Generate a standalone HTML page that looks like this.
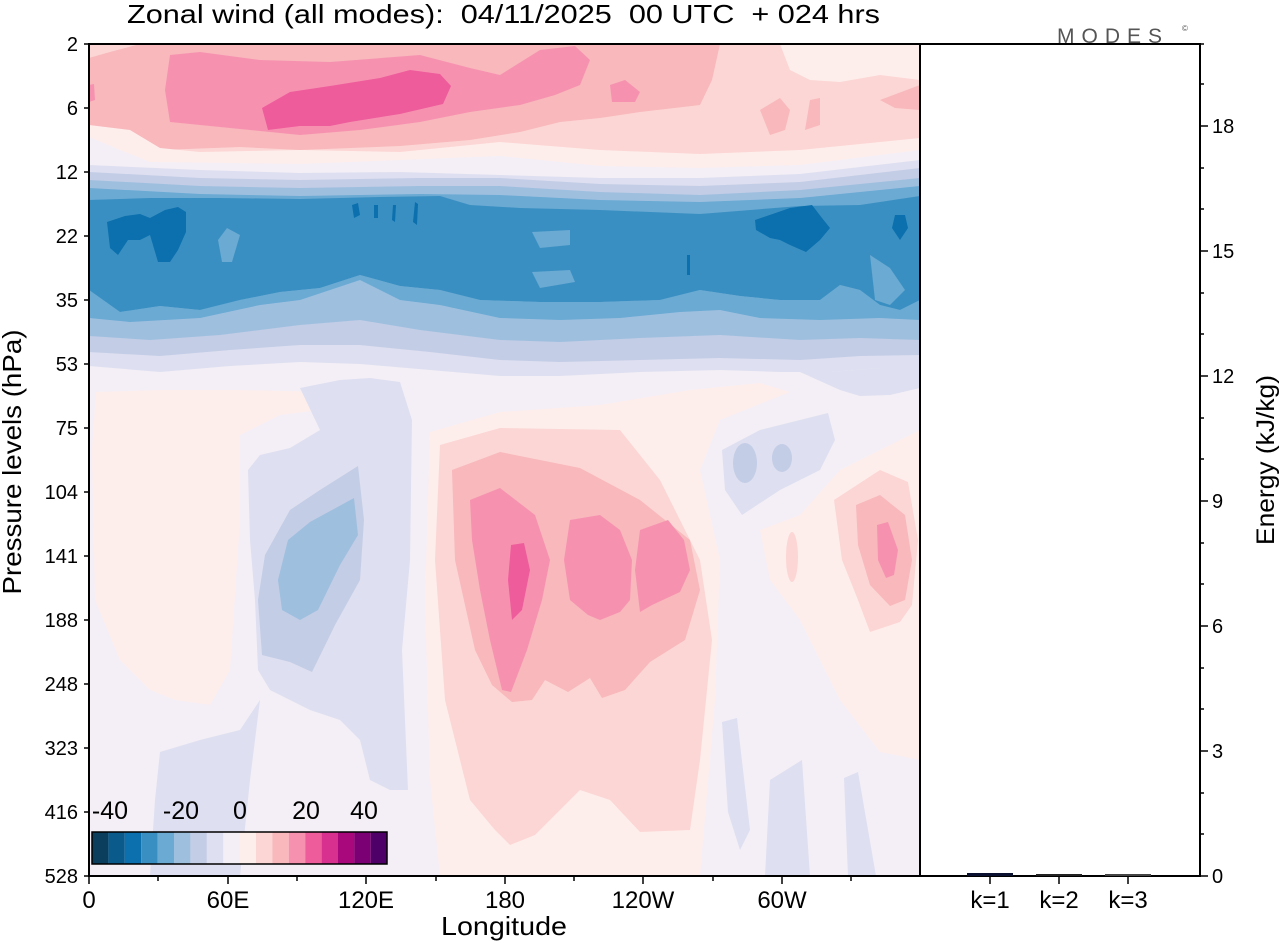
<!DOCTYPE html>
<html><head><meta charset="utf-8"><style>
body{margin:0;background:#fff;}
svg{display:block;font-family:"Liberation Sans",sans-serif;}
</style></head><body>
<svg width="1280" height="942" viewBox="0 0 1280 942" xmlns="http://www.w3.org/2000/svg">
<rect width="1280" height="942" fill="#fff"/>
<defs><clipPath id="c"><rect x="89" y="44" width="831" height="832"/></clipPath></defs>
<g clip-path="url(#c)" stroke-linejoin="round">
<rect x="89" y="44" width="831" height="832" fill="#f4eff6"/>
<rect x="89" y="44" width="831" height="160" fill="#fcd6d4"/>
<polygon fill="#fdeeec" points="780,44 920,44 920,80 880,75 840,82 810,80 790,70"/>
<polygon fill="#f8b8bc" points="89,58 110,52 140,44 720,44 712,80 700,105 640,112 600,118 560,122 520,132 470,140 400,146 300,150 240,147 160,150 130,140 89,130"/>
<polygon fill="#f8b8bc" points="760,110 780,98 790,110 785,130 770,135"/>
<polygon fill="#f8b8bc" points="810,100 820,98 820,125 805,130"/>
<polygon fill="#f8b8bc" points="880,100 920,85 920,110 895,108"/>
<polygon fill="#f692b0" points="170,55 200,52 260,60 330,62 420,55 470,68 500,75 540,50 575,46 590,60 580,85 555,95 520,105 470,112 420,122 360,130 300,135 250,130 170,122 165,90"/>
<polygon fill="#f692b0" points="610,85 625,80 640,92 635,102 612,102"/>
<polygon fill="#f692b0" points="89,85 94,84 95,100 89,102"/>
<polygon fill="#ee5c9c" points="262,108 290,92 330,86 380,78 410,70 440,74 451,86 443,104 400,114 350,122 330,126 300,126 268,130"/>
<polygon fill="#fdeeec" points="89,125 130,130 160,148 200,152 300,150 400,152 500,142 600,150 700,154 800,150 920,138 920,876 89,876"/>
<polygon fill="#f4eff6" points="89,137 120,150 150,162 300,164 400,160 500,156 600,166 700,168 800,165 920,150 920,876 89,876"/>
<polygon fill="#dedff0" points="89,165 200,170 300,173 400,172 500,175 600,178 700,178 800,174 920,160 920,876 89,876"/>
<polygon fill="#c3cde6" points="89,172 200,178 300,180 420,178 500,178 600,184 700,186 800,182 920,168 920,876 89,876"/>
<polygon fill="#9fbfdf" points="89,180 200,186 300,188 420,186 500,186 600,192 700,195 800,190 920,178 920,876 89,876"/>
<polygon fill="#6aaad3" points="89,188 200,194 300,196 420,194 500,195 600,200 700,202 800,198 920,186 920,876 89,876"/>
<polygon fill="#3a8fc2" points="89,200 150,198 220,198 300,199 380,197 440,196 470,205 520,208 600,210 700,214 800,206 860,205 920,196 920,300 900,310 880,305 860,290 840,285 820,300 780,300 740,296 700,290 660,300 600,302 540,302 480,300 440,290 400,286 360,275 320,288 280,292 240,300 200,310 160,306 120,312 89,290"/>
<polygon fill="#6aaad3" points="227,228 240,235 232,262 222,262 218,240"/>
<polygon fill="#6aaad3" points="532,232 570,230 570,245 540,248"/>
<polygon fill="#6aaad3" points="532,272 570,270 575,282 540,288"/>
<polygon fill="#6aaad3" points="870,255 890,268 905,290 890,305 875,300"/>
<polygon fill="#6aaad3" points="89,290 120,312 160,306 200,310 240,300 280,292 320,288 360,275 400,286 440,290 480,300 540,302 600,302 660,300 700,290 740,296 780,300 820,300 840,285 860,290 880,305 900,310 920,300 920,876 89,876"/>
<polygon fill="#0b70ad" points="107,222 125,216 140,214 150,218 165,210 178,207 186,212 186,232 178,250 170,262 158,262 150,235 140,240 128,240 118,255 110,248"/>
<polygon fill="#0b70ad" points="352,205 358,203 360,215 354,218"/>
<polygon fill="#0b70ad" points="374,205 378,205 378,218 374,218"/>
<polygon fill="#0b70ad" points="393,205 396,205 395,222 392,220"/>
<polygon fill="#0b70ad" points="415,202 418,204 417,225 413,222"/>
<polygon fill="#0b70ad" points="755,220 790,208 812,205 822,218 830,228 820,240 806,252 790,245 780,240 770,238 756,230"/>
<polygon fill="#0b70ad" points="895,215 905,215 908,228 900,240 892,228"/>
<polygon fill="#0b70ad" points="687,255 690,255 690,275 687,275"/>
<polygon fill="#9fbfdf" points="89,318 130,322 200,318 260,305 300,300 360,280 400,300 440,305 500,318 560,320 620,318 680,312 720,310 760,318 820,320 880,318 920,320 920,876 89,876"/>
<polygon fill="#c3cde6" points="89,336 150,340 220,335 300,325 360,320 420,330 500,340 560,342 640,338 720,335 800,340 860,338 920,340 920,876 89,876"/>
<polygon fill="#dedff0" points="89,352 160,356 230,350 300,345 360,345 430,352 500,360 560,362 640,360 720,358 800,360 860,356 920,355 920,876 89,876"/>
<polygon fill="#f4eff6" points="89,366 160,372 230,366 300,362 360,364 430,370 500,376 560,376 640,372 720,370 780,372 830,372 880,368 920,368 920,876 89,876"/>
<polygon fill="#dedff0" points="800,372 830,372 880,368 920,368 920,388 890,395 860,396 840,390"/>
<polygon fill="#fdeeec" points="96,392 160,390 240,390 330,392 320,410 280,415 240,435 240,520 230,670 210,705 175,700 150,690 120,660 95,600 92,450"/>
<polygon fill="#dedff0" points="300,388 340,380 370,378 400,382 412,420 410,560 402,650 408,790 390,790 370,780 360,740 340,720 310,710 290,700 270,690 258,670 255,600 250,540 248,470 260,455 290,448 320,430"/>
<polygon fill="#dedff0" points="160,752 200,740 240,730 260,700 250,780 240,876 150,876 155,800"/>
<polygon fill="#c3cde6" points="358,466 364,520 360,580 335,625 312,672 290,662 262,655 258,600 265,555 290,510 320,490"/>
<polygon fill="#9fbfdf" points="354,498 358,535 340,565 318,610 300,620 282,610 278,580 288,540 310,522"/>
<polygon fill="#fdeeec" points="430,432 500,412 600,405 690,390 760,383 790,392 720,420 700,470 720,560 715,700 700,876 440,876 430,780 425,600"/>
<polygon fill="#fdeeec" points="760,530 800,515 840,470 900,440 920,430 920,760 880,752 840,700 800,620 770,580"/>
<polygon fill="#fcd6d4" points="440,445 500,428 620,430 660,480 700,560 712,640 700,760 690,830 640,832 610,800 580,790 560,810 535,835 510,845 495,830 470,800 445,700 435,560"/>
<polygon fill="#f8b8bc" points="452,470 500,452 580,468 640,500 690,540 700,590 685,640 650,662 625,690 602,698 590,678 568,692 545,680 532,700 512,702 492,685 475,650 455,560"/>
<polygon fill="#f692b0" points="470,500 500,488 535,515 550,560 542,600 527,650 511,692 502,690 490,640 480,590 472,540"/>
<polygon fill="#f692b0" points="570,520 600,515 620,530 632,560 630,600 620,612 600,620 588,615 570,600 564,560"/>
<polygon fill="#f692b0" points="640,530 668,520 684,540 690,570 680,592 652,605 640,612 635,570"/>
<polygon fill="#ee5c9c" points="511,545 524,543 530,570 522,610 512,620 508,580"/>
<polygon fill="#fcd6d4" points="834,500 880,470 908,482 918,540 912,605 900,622 870,632 858,600 842,560"/>
<polygon fill="#f8b8bc" points="856,505 880,495 905,515 912,560 905,600 890,606 870,585 858,545"/>
<polygon fill="#f692b0" points="877,525 888,522 898,550 894,575 886,578 878,560"/>
<ellipse cx="792" cy="557" rx="6" ry="25" fill="#fcd6d4"/>
<polygon fill="#dedff0" points="722,450 760,430 828,413 835,440 820,470 780,490 742,515 725,490"/>
<ellipse cx="745" cy="463" rx="12" ry="20" fill="#c3cde6"/>
<ellipse cx="782" cy="458" rx="10" ry="14" fill="#c3cde6"/>
<polygon fill="#dedff0" points="722,722 737,718 750,830 740,850 728,812"/>
<polygon fill="#dedff0" points="770,780 802,760 810,876 765,876"/>
<polygon fill="#dedff0" points="844,778 858,772 876,876 848,876"/>
</g>
<rect x="89" y="44" width="831" height="832" fill="none" stroke="#000" stroke-width="2"/>
<rect x="920" y="44" width="280" height="832" fill="#fff" stroke="#000" stroke-width="2"/>
<g>
<rect x="92" y="832" width="16.4" height="32" fill="#0b3d5c"/>
<rect x="108.4" y="832" width="16.4" height="32" fill="#0a5a8c"/>
<rect x="124.8" y="832" width="16.4" height="32" fill="#0b70ad"/>
<rect x="141.2" y="832" width="16.4" height="32" fill="#3a8fc2"/>
<rect x="157.6" y="832" width="16.4" height="32" fill="#6aaad3"/>
<rect x="174" y="832" width="16.4" height="32" fill="#9fbfdf"/>
<rect x="190.4" y="832" width="16.4" height="32" fill="#c3cde6"/>
<rect x="206.8" y="832" width="16.4" height="32" fill="#dedff0"/>
<rect x="223.2" y="832" width="16.4" height="32" fill="#f4eff6"/>
<rect x="239.6" y="832" width="16.4" height="32" fill="#fdeeec"/>
<rect x="256" y="832" width="16.4" height="32" fill="#fcd6d4"/>
<rect x="272.4" y="832" width="16.4" height="32" fill="#f8b8bc"/>
<rect x="288.8" y="832" width="16.4" height="32" fill="#f692b0"/>
<rect x="305.2" y="832" width="16.4" height="32" fill="#ee5c9c"/>
<rect x="321.6" y="832" width="16.4" height="32" fill="#d7308f"/>
<rect x="338" y="832" width="16.4" height="32" fill="#a8087c"/>
<rect x="354.4" y="832" width="16.4" height="32" fill="#7a0073"/>
<rect x="370.8" y="832" width="16.4" height="32" fill="#4e0068"/>
<rect x="92" y="832" width="295" height="32" fill="none" stroke="#000" stroke-width="1.5"/>
<g font-size="25" text-anchor="middle" fill="#000">
<text x="110" y="819">-40</text><text x="181" y="819">-20</text><text x="240" y="819">0</text><text x="306" y="819">20</text><text x="364" y="819">40</text>
</g>
</g>
<rect x="967" y="873" width="46" height="3" fill="#0a1030"/>
<rect x="1036" y="874" width="46" height="2" fill="#222"/>
<rect x="1105" y="874" width="46" height="2" fill="#444"/>
<g stroke="#000" stroke-width="1.5">
<line x1="84" y1="44" x2="89" y2="44"/><line x1="84" y1="108" x2="89" y2="108"/><line x1="84" y1="172" x2="89" y2="172"/><line x1="84" y1="236" x2="89" y2="236"/><line x1="84" y1="300" x2="89" y2="300"/><line x1="84" y1="364" x2="89" y2="364"/><line x1="84" y1="428" x2="89" y2="428"/><line x1="84" y1="492" x2="89" y2="492"/><line x1="84" y1="556" x2="89" y2="556"/><line x1="84" y1="620" x2="89" y2="620"/><line x1="84" y1="684" x2="89" y2="684"/><line x1="84" y1="748" x2="89" y2="748"/><line x1="84" y1="812" x2="89" y2="812"/><line x1="84" y1="876" x2="89" y2="876"/>
<line x1="89" y1="876" x2="89" y2="884"/><line x1="158" y1="876" x2="158" y2="881"/><line x1="228" y1="876" x2="228" y2="884"/><line x1="297" y1="876" x2="297" y2="881"/><line x1="366" y1="876" x2="366" y2="884"/><line x1="436" y1="876" x2="436" y2="881"/><line x1="505" y1="876" x2="505" y2="884"/><line x1="574" y1="876" x2="574" y2="881"/><line x1="643" y1="876" x2="643" y2="884"/><line x1="713" y1="876" x2="713" y2="881"/><line x1="782" y1="876" x2="782" y2="884"/><line x1="851" y1="876" x2="851" y2="881"/>
<line x1="990" y1="876" x2="990" y2="884"/><line x1="1059" y1="876" x2="1059" y2="884"/><line x1="1128" y1="876" x2="1128" y2="884"/>
<line x1="1200" y1="876" x2="1208" y2="876"/><line x1="1200" y1="751" x2="1208" y2="751"/><line x1="1200" y1="626" x2="1208" y2="626"/><line x1="1200" y1="501" x2="1208" y2="501"/><line x1="1200" y1="376" x2="1208" y2="376"/><line x1="1200" y1="251" x2="1208" y2="251"/><line x1="1200" y1="126" x2="1208" y2="126"/>
<line x1="1200" y1="834" x2="1204" y2="834"/><line x1="1200" y1="793" x2="1204" y2="793"/><line x1="1200" y1="709" x2="1204" y2="709"/><line x1="1200" y1="668" x2="1204" y2="668"/><line x1="1200" y1="584" x2="1204" y2="584"/><line x1="1200" y1="543" x2="1204" y2="543"/><line x1="1200" y1="459" x2="1204" y2="459"/><line x1="1200" y1="418" x2="1204" y2="418"/><line x1="1200" y1="334" x2="1204" y2="334"/><line x1="1200" y1="293" x2="1204" y2="293"/><line x1="1200" y1="209" x2="1204" y2="209"/><line x1="1200" y1="168" x2="1204" y2="168"/><line x1="1200" y1="84" x2="1204" y2="84"/><line x1="1200" y1="44" x2="1204" y2="44"/>
</g>
<g font-size="20" fill="#000">
<g text-anchor="end">
<text x="78" y="51">2</text><text x="78" y="115">6</text><text x="78" y="179">12</text><text x="78" y="243">22</text><text x="78" y="307">35</text><text x="78" y="371">53</text><text x="78" y="435">75</text><text x="78" y="499">104</text><text x="78" y="563">141</text><text x="78" y="627">188</text><text x="78" y="691">248</text><text x="78" y="755">323</text><text x="78" y="819">416</text><text x="78" y="883">528</text>
</g>
<g text-anchor="middle" font-size="24">
<text x="89" y="908">0</text><text x="228" y="908">60E</text><text x="366" y="908">120E</text><text x="505" y="908">180</text><text x="643" y="908">120W</text><text x="782" y="908">60W</text>
<text x="990" y="908">k=1</text><text x="1059" y="908">k=2</text><text x="1128" y="908">k=3</text>
<text x="504" y="935" font-size="26" textLength="126" lengthAdjust="spacingAndGlyphs">Longitude</text>
</g>
<g text-anchor="start">
<text x="1212" y="883">0</text><text x="1212" y="758">3</text><text x="1212" y="633">6</text><text x="1212" y="508">9</text><text x="1212" y="383">12</text><text x="1212" y="258">15</text><text x="1212" y="133">18</text>
</g>
<text transform="translate(21,462) rotate(-90)" text-anchor="middle" font-size="26" textLength="265" lengthAdjust="spacingAndGlyphs">Pressure levels (hPa)</text>
<text transform="translate(1274,460) rotate(-90)" text-anchor="middle" font-size="25" textLength="170" lengthAdjust="spacingAndGlyphs">Energy (kJ/kg)</text>
<text x="127" y="23" font-size="26" style="white-space:pre" xml:space="preserve" textLength="753" lengthAdjust="spacingAndGlyphs">Zonal wind (all modes):  04/11/2025  00 UTC  + 024 hrs</text>
<text x="1057" y="43" font-size="21" fill="#555" letter-spacing="7">MODES</text>
<text x="1182" y="31" font-size="8" fill="#555">©</text>
</g>
</svg>
</body></html>
